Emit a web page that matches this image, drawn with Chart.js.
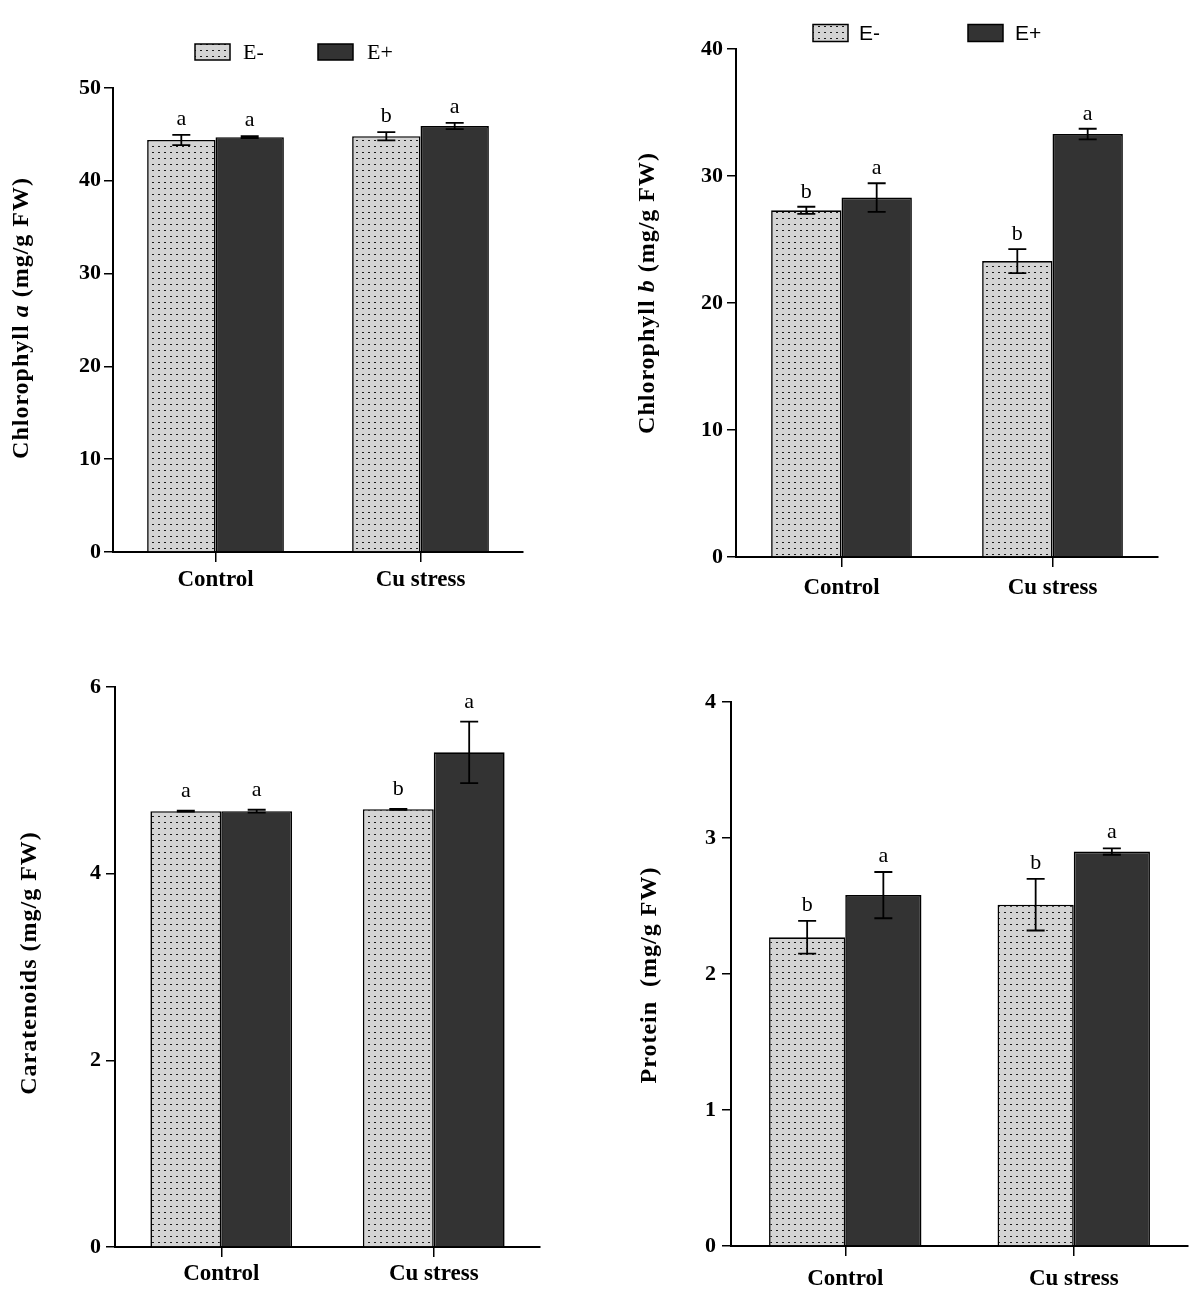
<!DOCTYPE html>
<html><head><meta charset="utf-8">
<script src="https://cdn.jsdelivr.net/npm/chart.js@4.4.1/dist/chart.umd.min.js"></script>
<style>
html,body{margin:0;padding:0;background:#fff;width:1200px;height:1295px;overflow:hidden}
.p{position:absolute}
canvas{display:block}
</style></head><body>
<div class="p" id="w1" style="left:0;top:0"></div>
<div class="p" id="w2" style="left:600px;top:0"></div>
<div class="p" id="w3" style="left:0;top:640px"></div>
<div class="p" id="w4" style="left:600px;top:640px"></div>
<script>
// ---------- DATA ----------
const categories = ['Control', 'Cu stress'];
const seriesNames = ['E-', 'E+'];

const chlA_Eminus = [44.4, 44.8];
const chlA_Eplus = [44.7, 45.9];
const chlA_errMinus = [0.55, 0.45];
const chlA_errPlus = [0.1, 0.34];
const chlA_lettersMinus = ['a', 'b'];
const chlA_lettersPlus = ['a', 'a'];
const chlA_ticks = [0, 10, 20, 30, 40, 50];

const chlB_Eminus = [27.3, 23.3];
const chlB_Eplus = [28.3, 33.3];
const chlB_errMinus = [0.28, 0.94];
const chlB_errPlus = [1.13, 0.42];
const chlB_lettersMinus = ['b', 'b'];
const chlB_lettersPlus = ['a', 'a'];
const chlB_ticks = [0, 10, 20, 30, 40];

const car_Eminus = [4.67, 4.69];
const car_Eplus = [4.67, 5.30];
const car_errMinus = [0.005, 0.005];
const car_errPlus = [0.015, 0.33];
const car_lettersMinus = ['a', 'b'];
const car_lettersPlus = ['a', 'a'];
const car_ticks = [0, 2, 4, 6];

const prot_Eminus = [2.27, 2.51];
const prot_Eplus = [2.58, 2.90];
const prot_errMinus = [0.12, 0.19];
const prot_errPlus = [0.17, 0.023];
const prot_lettersMinus = ['b', 'b'];
const prot_lettersPlus = ['a', 'a'];
const prot_ticks = [0, 1, 2, 3, 4];

// ---------- STYLE ----------
const SERIF = '"Liberation Serif", "Times New Roman", serif';
const SANS = '"Liberation Sans", Arial, sans-serif';

function dotPattern() {
  const c = document.createElement('canvas');
  c.width = 6; c.height = 6;
  const x = c.getContext('2d');
  x.fillStyle = '#d4d4d4'; x.fillRect(0, 0, 6, 6);
  x.fillStyle = '#1a1a1a'; x.fillRect(2, 2, 2, 1);
  return x.createPattern(c, 'repeat');
}
const PAT = dotPattern();
const DARK = '#333333';

const annot = {
  id: 'annot',
  afterDatasetsDraw(chart, args, o) {
    const ctx = chart.ctx, ys = chart.scales.y;
    chart.data.datasets.forEach((ds, i) => {
      const meta = chart.getDatasetMeta(i);
      meta.data.forEach((bar, j) => {
        const v = ds.data[j], e = ds.errors[j];
        const yt = ys.getPixelForValue(v + e), yb = ys.getPixelForValue(v - e);
        const x = bar.x, cw = o.cap / 2;
        ctx.save();
        ctx.strokeStyle = '#000'; ctx.lineWidth = 1.8;
        ctx.beginPath();
        ctx.moveTo(x, yt); ctx.lineTo(x, yb);
        ctx.moveTo(x - cw, yt); ctx.lineTo(x + cw, yt);
        ctx.moveTo(x - cw, yb); ctx.lineTo(x + cw, yb);
        ctx.stroke();
        ctx.font = '22px ' + SERIF; ctx.fillStyle = '#000';
        ctx.textAlign = 'center'; ctx.textBaseline = 'alphabetic';
        ctx.fillText(ds.letters[j], x, yt - o.letterGap);
        ctx.restore();
      });
    });
  },
  afterDraw(chart, args, o) {
    const ctx = chart.ctx;
    // y-axis title with mixed styles
    ctx.save();
    ctx.translate(o.titleX, o.titleY);
    ctx.rotate(-Math.PI / 2);
    ctx.fillStyle = '#000'; ctx.textBaseline = 'middle'; ctx.textAlign = 'left';
    if ('letterSpacing' in ctx) ctx.letterSpacing = '1px';
    const f = s => (s.it ? 'italic ' : '') + 'bold 24px ' + SERIF;
    let total = 0;
    o.title.forEach(s => { ctx.font = f(s); total += ctx.measureText(s.t).width; });
    let x = -total / 2;
    o.title.forEach(s => { ctx.font = f(s); ctx.fillText(s.t, x, 0); x += ctx.measureText(s.t).width; });
    ctx.restore();
    // legend
    if (o.legend) {
      const L = o.legend;
      chart.data.datasets.forEach((ds, i) => {
        const it = L.items[i];
        ctx.save();
        ctx.fillStyle = ds.backgroundColor;
        ctx.fillRect(it.bx, L.y - L.bh / 2, L.bw, L.bh);
        ctx.strokeStyle = '#000'; ctx.lineWidth = 1.5;
        ctx.strokeRect(it.bx, L.y - L.bh / 2, L.bw, L.bh);
        ctx.fillStyle = '#000'; ctx.font = L.font;
        ctx.textAlign = 'left'; ctx.textBaseline = 'middle';
        ctx.fillText(ds.label, it.tx, L.y + 1);
        ctx.restore();
      });
    }
  }
};

function makePanel(id, P) {
  const wrap = document.getElementById(id);
  const cv = document.createElement('canvas');
  cv.width = P.w; cv.height = P.h;
  cv.style.width = P.w + 'px'; cv.style.height = P.h + 'px';
  wrap.appendChild(cv);
  const ticks = P.ticks;
  new Chart(cv.getContext('2d'), {
    type: 'bar',
    data: {
      labels: categories,
      datasets: [
        { label: seriesNames[0], data: P.minus, errors: P.errMinus, letters: P.lettersMinus,
          backgroundColor: PAT, borderColor: '#000', borderWidth: 1.6 },
        { label: seriesNames[1], data: P.plus, errors: P.errPlus, letters: P.lettersPlus,
          backgroundColor: DARK, borderColor: '#000', borderWidth: 1.6 }
      ]
    },
    options: {
      responsive: false, animation: false, devicePixelRatio: 1,
      layout: { padding: { top: P.top, right: P.right, left: 0, bottom: 0 } },
      datasets: { bar: { barPercentage: 1, categoryPercentage: 0.667 } },
      plugins: {
        legend: { display: false }, tooltip: { enabled: false },
        annot: { cap: 18, letterGap: P.letterGap, title: P.title, titleX: P.titleX, titleY: P.titleY, legend: P.legend }
      },
      scales: {
        x: {
          offset: true,
          grid: { offset: false, drawOnChartArea: false, drawTicks: true, tickLength: 10, color: '#000', lineWidth: 1.5 },
          border: { display: true, color: '#000', width: 2 },
          ticks: { color: '#000', font: { family: SERIF, size: 23, weight: 'bold' }, padding: P.xPad, maxRotation: 0 },
          afterFit(s) { s.height = P.xH; }
        },
        y: {
          min: ticks[0], max: ticks[ticks.length - 1],
          grid: { drawOnChartArea: false, drawTicks: true, tickLength: 9, color: '#000', lineWidth: 1.5 },
          border: { display: true, color: '#000', width: 2 },
          ticks: { stepSize: ticks[1] - ticks[0], color: '#000', padding: P.yPad,
                   font: { family: SERIF, size: 22, weight: 'bold' } },
          afterFit(s) { s.width = P.yW; }
        }
      }
    },
    plugins: [annot]
  });
}

makePanel('w1', {
  w: 600, h: 640, top: 88, right: 77, yW: 113, xH: 88, xPad: 4, yPad: 3, letterGap: 10,
  minus: chlA_Eminus, plus: chlA_Eplus, errMinus: chlA_errMinus, errPlus: chlA_errPlus,
  lettersMinus: chlA_lettersMinus, lettersPlus: chlA_lettersPlus, ticks: chlA_ticks,
  title: [{ t: 'Chlorophyll ' }, { t: 'a', it: true }, { t: ' (mg/g FW)' }], titleX: 22, titleY: 318,
  legend: { y: 52, bw: 35, bh: 16, font: '22px ' + SERIF, items: [{ bx: 195, tx: 243 }, { bx: 318, tx: 367 }] }
});
makePanel('w2', {
  w: 600, h: 640, top: 49, right: 42, yW: 136, xH: 83, xPad: 7, yPad: 4, letterGap: 9,
  minus: chlB_Eminus, plus: chlB_Eplus, errMinus: chlB_errMinus, errPlus: chlB_errPlus,
  lettersMinus: chlB_lettersMinus, lettersPlus: chlB_lettersPlus, ticks: chlB_ticks,
  title: [{ t: 'Chlorophyll ' }, { t: 'b', it: true }, { t: ' (mg/g FW)' }], titleX: 48, titleY: 293,
  legend: { y: 33, bw: 35, bh: 17, font: '21px ' + SANS, items: [{ bx: 213, tx: 259 }, { bx: 368, tx: 415 }] }
});
makePanel('w3', {
  w: 600, h: 655, top: 47, right: 60, yW: 115, xH: 48, xPad: 3, yPad: 5, letterGap: 14,
  minus: car_Eminus, plus: car_Eplus, errMinus: car_errMinus, errPlus: car_errPlus,
  lettersMinus: car_lettersMinus, lettersPlus: car_lettersPlus, ticks: car_ticks,
  title: [{ t: 'Caratenoids (mg/g FW)' }], titleX: 30, titleY: 323
});
makePanel('w4', {
  w: 600, h: 655, top: 62, right: 12, yW: 131, xH: 49, xPad: 9, yPad: 6, letterGap: 10,
  minus: prot_Eminus, plus: prot_Eplus, errMinus: prot_errMinus, errPlus: prot_errPlus,
  lettersMinus: prot_lettersMinus, lettersPlus: prot_lettersPlus, ticks: prot_ticks,
  title: [{ t: 'Protein  (mg/g FW)' }], titleX: 50, titleY: 335
});
</script>
</body></html>
